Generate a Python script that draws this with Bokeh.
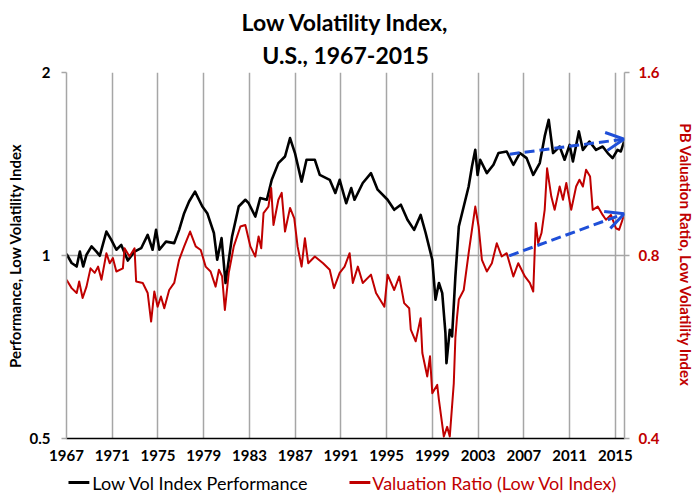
from bokeh.plotting import figure
from bokeh.layouts import column
from bokeh.models import (Range1d, LogScale, LogAxis, FixedTicker, Title, Label,
                          Arrow, OpenHead)
from bokeh.embed import file_html
from bokeh.resources import INLINE

# ---------------- data ----------------
perf_years = [1967.0, 1967.45, 1967.89, 1968.17, 1968.46, 1968.75, 1969.19, 1969.62, 1969.91, 1970.49,
              1970.92, 1971.36, 1971.79, 1972.36, 1972.95, 1973.53, 1974.10, 1974.53, 1974.83, 1975.12,
              1975.70, 1976.42, 1976.85, 1977.29, 1977.72, 1978.24, 1978.88, 1979.31, 1979.89, 1980.18,
              1980.56, 1980.91, 1981.48, 1982.06, 1982.64, 1982.93, 1983.51, 1983.94, 1984.52, 1984.95,
              1985.53, 1986.11, 1986.55, 1986.98, 1987.56, 1987.99, 1988.72, 1989.15, 1990.02, 1990.51,
              1990.89, 1991.46, 1991.90, 1992.19, 1992.91, 1993.63, 1994.21, 1995.08, 1995.66, 1996.24,
              1996.82, 1997.40, 1997.97, 1998.41, 1998.70, 1998.99, 1999.27, 1999.57, 1999.86, 2000.14,
              2000.23, 2000.52, 2000.72, 2001.01, 2001.31, 2001.74, 2002.17, 2002.46, 2002.75, 2002.95,
              2003.18, 2003.76, 2004.34, 2004.78, 2005.50, 2006.08, 2006.65, 2007.24, 2007.82, 2008.39,
              2008.82, 2009.17, 2009.55, 2010.13, 2010.56, 2011.00, 2011.29, 2011.81, 2012.16, 2012.73,
              2013.31, 2013.89, 2014.33, 2014.76, 2015.19, 2015.48, 2015.77]
perf_values = [1.006, 0.972, 0.959, 1.015, 0.959, 1.003, 1.035, 1.015, 0.999, 1.095,
               1.061, 1.022, 1.041, 0.981, 1.015, 1.028, 1.081, 1.022, 1.102, 1.022,
               1.054, 1.048, 1.102, 1.174, 1.227, 1.274, 1.204, 1.174, 1.089, 0.984,
               1.068, 0.901, 1.075, 1.204, 1.235, 1.219, 1.159, 1.243, 1.235, 1.332,
               1.419, 1.455, 1.560, 1.474, 1.323, 1.437, 1.437, 1.357, 1.332, 1.267,
               1.332, 1.219, 1.291, 1.235, 1.316, 1.366, 1.283, 1.235, 1.189, 1.212,
               1.145, 1.102, 1.166, 1.089, 1.035, 0.984, 0.846, 0.901, 0.867, 0.745,
               0.665, 0.755, 0.736, 0.924, 1.116, 1.204, 1.299, 1.401, 1.492, 1.357,
               1.437, 1.366, 1.410, 1.474, 1.483, 1.410, 1.474, 1.446, 1.357, 1.419,
               1.570, 1.672, 1.474, 1.511, 1.437, 1.520, 1.428, 1.600, 1.492, 1.540,
               1.492, 1.511, 1.474, 1.446, 1.492, 1.483, 1.540]

pb_years = [1967.0, 1967.45, 1967.89, 1968.11, 1968.41, 1968.75, 1969.10, 1969.47, 1969.76, 1970.06,
            1970.49, 1970.78, 1971.06, 1971.36, 1971.93, 1972.08, 1972.51, 1972.95, 1973.09, 1973.67,
            1974.10, 1974.40, 1974.68, 1974.97, 1975.26, 1975.55, 1975.98, 1976.42, 1976.85, 1977.29,
            1977.81, 1978.30, 1978.74, 1979.17, 1979.60, 1980.04, 1980.33, 1980.61, 1980.85, 1981.19,
            1981.63, 1982.21, 1982.64, 1983.08, 1983.51, 1983.80, 1984.03, 1984.23, 1984.66, 1984.90,
            1985.10, 1985.53, 1985.82, 1986.11, 1986.55, 1986.92, 1987.21, 1987.56, 1987.85, 1988.14,
            1988.72, 1989.44, 1990.02, 1990.39, 1990.89, 1991.32, 1991.76, 1992.04, 1992.48, 1992.91,
            1993.63, 1994.07, 1994.80, 1995.08, 1995.66, 1996.10, 1996.53, 1996.97, 1997.11, 1997.54,
            1997.97, 1998.12, 1998.55, 1998.79, 1998.99, 1999.42, 1999.57, 2000.00, 2000.29, 2000.52,
            2000.87, 2001.01, 2001.16, 2001.31, 2001.74, 2002.17, 2002.46, 2002.75, 2003.04, 2003.33,
            2003.76, 2004.20, 2004.63, 2005.06, 2005.50, 2006.08, 2006.51, 2007.09, 2007.52, 2007.82,
            2008.04, 2008.25, 2008.54, 2008.82, 2009.03, 2009.40, 2009.69, 2010.13, 2010.42, 2010.71,
            2011.14, 2011.57, 2011.86, 2012.16, 2012.44, 2012.79, 2013.02, 2013.46, 2013.89, 2014.18,
            2014.61, 2015.05, 2015.33, 2015.77]
pb_values = [0.730, 0.707, 0.694, 0.725, 0.681, 0.711, 0.762, 0.749, 0.767, 0.730,
             0.807, 0.777, 0.792, 0.753, 0.762, 0.822, 0.797, 0.822, 0.725, 0.721,
             0.694, 0.623, 0.698, 0.659, 0.685, 0.655, 0.702, 0.721, 0.787, 0.828,
             0.876, 0.828, 0.817, 0.767, 0.753, 0.711, 0.758, 0.739, 0.651, 0.749,
             0.828, 0.893, 0.898, 0.828, 0.797, 0.860, 0.822, 0.939, 0.963, 1.033,
             0.898, 0.988, 1.014, 0.876, 0.958, 0.921, 0.828, 0.767, 0.854, 0.777,
             0.797, 0.777, 0.758, 0.707, 0.749, 0.767, 0.807, 0.721, 0.767, 0.721,
             0.744, 0.694, 0.659, 0.744, 0.702, 0.739, 0.668, 0.655, 0.604, 0.578,
             0.631, 0.553, 0.506, 0.546, 0.475, 0.490, 0.463, 0.403, 0.418, 0.403,
             0.493, 0.586, 0.635, 0.677, 0.702, 0.807, 0.882, 0.963, 0.893, 0.787,
             0.753, 0.777, 0.838, 0.797, 0.807, 0.739, 0.777, 0.739, 0.721, 0.698,
             0.905, 0.838, 0.871, 0.951, 1.113, 1.000, 0.951, 1.039, 0.988, 1.053,
             0.951, 1.039, 1.066, 1.039, 1.107, 1.079, 0.951, 0.963, 0.933, 0.916,
             0.933, 0.887, 0.882, 0.933]

# trend arrows (start / end)
perf_arrow_x = [2005.76, 2015.77]
perf_arrow_y = [1.468, 1.554]
pb_arrow_x = [2005.71, 2015.77]
pb_arrow_y = [0.799, 0.937]

x_ticks = [1967, 1971, 1975, 1979, 1983, 1987, 1991, 1995, 1999, 2003, 2007, 2011, 2015]
left_ticks = [0.5, 1, 2]
right_ticks = [0.4, 0.8, 1.6]

title_lines = ["Low Volatility Index,", "U.S., 1967-2015"]
left_label = "Performance, Low Volatility Index"
right_label = "PB Valuation Ratio, Low Volatility Index"
series_names = ["Low Vol Index Performance", "Valuation Ratio (Low Vol Index)"]

# ---------------- styling ----------------
FONT = "Lato"
BLACK = "#000000"
RED = "#c00000"
BLUE = "#1f4fd8"
GRID = "#a6a6a6"
W = 698
BORDER_L, BORDER_R = 66, 70

p = figure(width=W, height=468, y_axis_type="log",
           x_range=Range1d(1967, 2015.8), y_range=Range1d(0.5, 2),
           output_backend="svg", toolbar_location=None,
           min_border_left=BORDER_L, min_border_right=BORDER_R,
           min_border_top=72, min_border_bottom=30)
p.title.text = ""
p.outline_line_color = None

p.extra_y_ranges = {"pb": Range1d(0.4, 1.6)}
p.extra_y_scales = {"pb": LogScale()}

# grids
p.xgrid.ticker = FixedTicker(ticks=x_ticks)
p.ygrid.ticker = FixedTicker(ticks=left_ticks)
for g in (p.xgrid, p.ygrid):
    g.grid_line_color = GRID
    g.grid_line_width = 1.5

# bottom axis
xa = p.xaxis[0]
xa.ticker = FixedTicker(ticks=x_ticks)
xa.axis_line_color = BLACK
xa.axis_line_width = 1.5
xa.major_tick_line_color = None
xa.major_tick_out = 0
xa.minor_tick_line_color = None
xa.major_label_text_font = FONT
xa.major_label_text_font_style = "bold"
xa.major_label_text_font_size = "15px"
xa.major_label_text_color = BLACK
xa.major_label_standoff = 11

# left axis
ya = p.yaxis[0]
ya.ticker = FixedTicker(ticks=left_ticks)
ya.major_label_overrides = {0.5: "0.5", 1: "1", 2: "2"}
ya.axis_line_color = GRID
ya.axis_line_width = 1.5
ya.major_tick_line_color = GRID
ya.major_tick_line_width = 1.5
ya.major_tick_out = 5
ya.major_tick_in = 0
ya.minor_tick_line_color = None
ya.major_label_text_font = FONT
ya.major_label_text_font_style = "bold"
ya.major_label_text_font_size = "15px"
ya.major_label_text_color = BLACK
ya.major_label_standoff = 11
ya.axis_label = left_label
ya.axis_label_text_font = FONT
ya.axis_label_text_font_style = "bold"
ya.axis_label_text_font_size = "15px"
ya.axis_label_text_color = BLACK
ya.axis_label_standoff = 3

# right axis
ra = LogAxis(y_range_name="pb", ticker=FixedTicker(ticks=right_ticks))
ra.major_label_overrides = {0.4: "0.4", 0.8: "0.8", 1.6: "1.6"}
ra.axis_line_color = GRID
ra.axis_line_width = 1.5
ra.major_tick_line_color = GRID
ra.major_tick_line_width = 1.5
ra.major_tick_out = 5
ra.major_tick_in = 0
ra.minor_tick_line_color = None
ra.major_label_text_font = FONT
ra.major_label_text_font_style = "bold"
ra.major_label_text_font_size = "15px"
ra.major_label_text_color = RED
ra.major_label_standoff = 9
ra.axis_label = right_label
ra.axis_label_text_font = FONT
ra.axis_label_text_font_style = "bold"
ra.axis_label_text_font_size = "15px"
ra.axis_label_text_color = RED
ra.axis_label_standoff = 15
p.add_layout(ra, "right")

# lines
p.line(perf_years, perf_values, line_color=BLACK, line_width=2.6, line_join="round")
p.line(pb_years, pb_values, line_color=RED, line_width=2, line_join="round", y_range_name="pb")

# arrows
p.add_layout(Arrow(x_start=perf_arrow_x[0], y_start=perf_arrow_y[0],
                   x_end=perf_arrow_x[1], y_end=perf_arrow_y[1],
                   line_color=BLUE, line_width=3, line_dash="10 5",
                   end=OpenHead(size=18, line_color=BLUE, line_width=3)))
p.add_layout(Arrow(x_start=pb_arrow_x[0], y_start=pb_arrow_y[0],
                   x_end=pb_arrow_x[1], y_end=pb_arrow_y[1], y_range_name="pb",
                   line_color=BLUE, line_width=3, line_dash="10 5",
                   end=OpenHead(size=18, line_color=BLUE, line_width=3)))

# titles (later-added title sits further from the plot)
p.add_layout(Title(text=title_lines[1], align="center", text_font=FONT, text_font_style="bold",
                   text_font_size="23px", text_color=BLACK, standoff=7), "above")
p.add_layout(Title(text=title_lines[0], align="center", text_font=FONT, text_font_style="bold",
                   text_font_size="23px", text_color=BLACK, standoff=0), "above")

# ---------------- legend strip ----------------
# the strip's frame is aligned with the chart's frame, so its x range is set
# to page pixels across that frame
LH = 29
legend_key_x0 = [68, 351]   # swatch start (px on the page)
legend_key_len = 21
legend_text_x = [92, 374]
legend_colors = [BLACK, RED]

lg = figure(width=W, height=LH, x_range=Range1d(BORDER_L, W - BORDER_R), y_range=Range1d(0, LH),
            x_axis_location=None, y_axis_location=None,
            output_backend="svg", toolbar_location=None,
            min_border=0, min_border_left=BORDER_L, min_border_right=BORDER_R,
            min_border_top=0, min_border_bottom=0)
lg.grid.visible = False
lg.outline_line_color = None
lg.segment(x0=legend_key_x0, y0=[15, 15],
           x1=[x + legend_key_len for x in legend_key_x0], y1=[15, 15],
           line_color=legend_colors, line_width=3)
for name, tx, col in zip(series_names, legend_text_x, legend_colors):
    lg.add_layout(Label(x=tx, y=15, text=name,
                        text_font=FONT, text_font_size="18px", text_color=col,
                        text_baseline="middle", text_align="left"))

open("out.html", "w").write(file_html(column(p, lg, spacing=0), INLINE))
